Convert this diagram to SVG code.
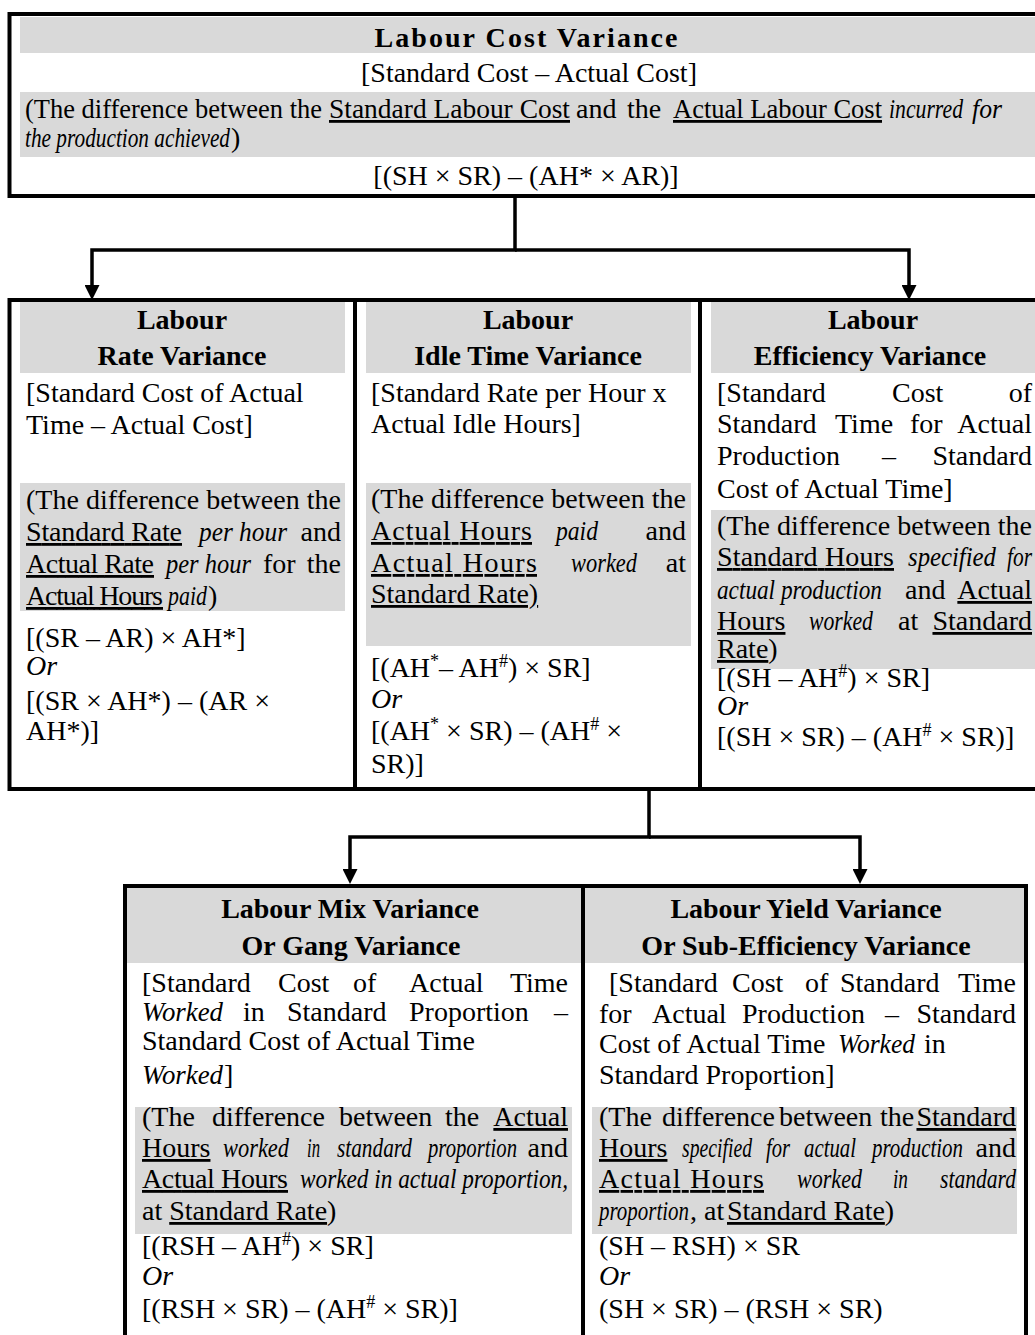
<svg xmlns="http://www.w3.org/2000/svg" width="1035" height="1335" viewBox="0 0 1035 1335">
<style>
.t{font-family:"Liberation Serif","Times New Roman",serif;font-size:28px;fill:#000}
.h{font-weight:bold;text-anchor:middle}
.i{font-style:italic}
.u{text-decoration:underline}
.m{text-anchor:middle}
.e{text-anchor:end}
.box{fill:#fff;stroke:#000;stroke-width:4}
.band{fill:#d9d9d9}
.conn{fill:none;stroke:#000;stroke-width:3.5}
.sup{font-size:18px}
</style>
<defs>
<marker id="arr" viewBox="0 0 15 15" refX="5" refY="7.5" markerWidth="15" markerHeight="15" markerUnits="userSpaceOnUse" orient="auto"><path d="M0,0 L15,7.5 L0,15 z" fill="#000"/></marker>
</defs>
<rect width="1035" height="1335" fill="#fff"/>

<g id="node-labour-cost">
<rect class="box" x="9.5" y="14" width="1040" height="182"/>
<rect class="band" x="20" y="17" width="1020" height="36"/>
<rect class="band" x="20" y="92" width="1020" height="65"/>
<text class="t h" x="526" y="47" font-size="31" textLength="303" lengthAdjust="spacing">Labour Cost Variance</text>
<text class="t m" x="529" y="82">[Standard Cost – Actual Cost]</text>
<text class="t" y="118"><tspan x="25" textLength="297" lengthAdjust="spacingAndGlyphs">(The difference between the</tspan><tspan class="u" x="329" textLength="241" lengthAdjust="spacingAndGlyphs">Standard Labour Cost</tspan><tspan x="576">and</tspan><tspan x="627">the</tspan><tspan class="u" x="673" textLength="209" lengthAdjust="spacingAndGlyphs">Actual Labour Cost</tspan><tspan class="i" x="889" textLength="74" lengthAdjust="spacingAndGlyphs">incurred</tspan><tspan class="i" x="972" textLength="30" lengthAdjust="spacingAndGlyphs">for</tspan></text>
<text class="t" y="147"><tspan class="i" x="25" textLength="205" lengthAdjust="spacingAndGlyphs">the production achieved</tspan><tspan x="231">)</tspan></text>
<text class="t m" x="526" y="185">[(SH × SR) – (AH* × AR)]</text>
</g>

<g id="node-rate">
<rect class="box" x="9.5" y="300" width="345.5" height="489"/>
<rect class="band" x="20" y="302" width="325" height="71"/>
<rect class="band" x="20" y="483" width="325" height="128"/>
<text class="t h" x="182" y="329">Labour</text>
<text class="t h" x="182" y="365">Rate Variance</text>
<text class="t" x="26" y="402">[Standard Cost of Actual</text>
<text class="t" x="26" y="434">Time – Actual Cost]</text>
<text class="t" x="26" y="509" textLength="315" lengthAdjust="spacing">(The difference between the</text>
<text class="t" y="541"><tspan class="u" x="26" textLength="156" lengthAdjust="spacing">Standard Rate</tspan><tspan class="i" x="199" textLength="88" lengthAdjust="spacingAndGlyphs">per hour</tspan><tspan class="e" x="341">and</tspan></text>
<text class="t" y="573"><tspan class="u" x="26" textLength="128" lengthAdjust="spacing">Actual Rate</tspan><tspan class="i" x="166" textLength="85" lengthAdjust="spacingAndGlyphs">per hour</tspan><tspan x="263">for</tspan><tspan class="e" x="341">the</tspan></text>
<text class="t" y="605"><tspan class="u" x="26" textLength="137" lengthAdjust="spacing">Actual Hours</tspan><tspan class="i" x="168" textLength="39" lengthAdjust="spacingAndGlyphs">paid</tspan><tspan x="208">)</tspan></text>
<text class="t" x="26" y="647">[(SR – AR) × AH*]</text>
<text class="t i" x="26" y="675">Or</text>
<text class="t" x="26" y="710">[(SR × AH*) – (AR ×</text>
<text class="t" x="26" y="740">AH*)]</text>
</g>

<g id="node-idle-time">
<rect class="box" x="355" y="300" width="345" height="489"/>
<rect class="band" x="366" y="302" width="325" height="71"/>
<rect class="band" x="366" y="483" width="325" height="163"/>
<text class="t h" x="528" y="329">Labour</text>
<text class="t h" x="528" y="365">Idle Time Variance</text>
<text class="t" x="371" y="402">[Standard Rate per Hour x</text>
<text class="t" x="371" y="433">Actual Idle Hours]</text>
<text class="t" x="371" y="508" textLength="315" lengthAdjust="spacing">(The difference between the</text>
<text class="t" y="540"><tspan class="u" x="371" textLength="161" lengthAdjust="spacing">Actual Hours</tspan><tspan class="i" x="556" textLength="42" lengthAdjust="spacingAndGlyphs">paid</tspan><tspan class="e" x="686">and</tspan></text>
<text class="t" y="572"><tspan class="u" x="371" textLength="166" lengthAdjust="spacing">Actual Hours</tspan><tspan class="i" x="571" textLength="66" lengthAdjust="spacingAndGlyphs">worked</tspan><tspan class="e" x="686">at</tspan></text>
<text class="t u" x="371" y="603">Standard Rate)</text>
<text class="t" x="371" y="677">[(AH<tspan class="sup" dy="-10">*</tspan><tspan dy="10">– AH</tspan><tspan class="sup" dy="-10">#</tspan><tspan dy="10">) × SR]</tspan></text>
<text class="t i" x="371" y="708">Or</text>
<text class="t" x="371" y="740">[(AH<tspan class="sup" dy="-10">*</tspan><tspan dy="10"> × SR) – (AH</tspan><tspan class="sup" dy="-10">#</tspan><tspan dy="10"> ×</tspan></text>
<text class="t" x="371" y="773">SR)]</text>
</g>

<g id="node-efficiency">
<rect class="box" x="700" y="300" width="345" height="489"/>
<rect class="band" x="711" y="302" width="330" height="71"/>
<rect class="band" x="711" y="510" width="330" height="159"/>
<text class="t h" x="873" y="329">Labour</text>
<text class="t h" x="870" y="365">Efficiency Variance</text>
<text class="t" y="402"><tspan x="717">[Standard</tspan><tspan x="892">Cost</tspan><tspan class="e" x="1032">of</tspan></text>
<text class="t" y="433"><tspan x="717">Standard</tspan><tspan x="835">Time</tspan><tspan x="910">for</tspan><tspan class="e" x="1032">Actual</tspan></text>
<text class="t" y="465"><tspan x="717">Production</tspan><tspan x="882">–</tspan><tspan class="e" x="1032">Standard</tspan></text>
<text class="t" x="717" y="498">Cost of Actual Time]</text>
<text class="t" x="717" y="535" textLength="315" lengthAdjust="spacing">(The difference between the</text>
<text class="t" y="566"><tspan class="u" x="717" textLength="177" lengthAdjust="spacing">Standard Hours</tspan><tspan class="i" x="908" textLength="88" lengthAdjust="spacingAndGlyphs">specified</tspan><tspan class="i e" x="1032" textLength="25" lengthAdjust="spacingAndGlyphs">for</tspan></text>
<text class="t" y="599"><tspan class="i" x="717" textLength="165" lengthAdjust="spacingAndGlyphs">actual production</tspan><tspan x="905">and</tspan><tspan class="u e" x="1032">Actual</tspan></text>
<text class="t" y="630"><tspan class="u" x="717">Hours</tspan><tspan class="i" x="809" textLength="64" lengthAdjust="spacingAndGlyphs">worked</tspan><tspan x="898">at</tspan><tspan class="u e" x="1032">Standard</tspan></text>
<text class="t" x="717" y="658"><tspan class="u">Rate</tspan>)</text>
<text class="t" x="717" y="687">[(SH – AH<tspan class="sup" dy="-10">#</tspan><tspan dy="10">) × SR]</tspan></text>
<text class="t i" x="717" y="715">Or</text>
<text class="t" x="717" y="746">[(SH × SR) – (AH<tspan class="sup" dy="-10">#</tspan><tspan dy="10"> × SR)]</tspan></text>
</g>

<g id="node-mix">
<rect class="box" x="125" y="886" width="458" height="470"/>
<rect class="band" x="127" y="888" width="454" height="75"/>
<rect class="band" x="135" y="1107" width="437" height="127"/>
<text class="t h" x="350" y="918">Labour Mix Variance</text>
<text class="t h" x="351" y="955">Or Gang Variance</text>
<text class="t" y="992"><tspan x="142">[Standard</tspan><tspan x="278">Cost</tspan><tspan x="353">of</tspan><tspan x="409">Actual</tspan><tspan class="e" x="568">Time</tspan></text>
<text class="t" y="1021"><tspan class="i" x="142" textLength="81" lengthAdjust="spacingAndGlyphs">Worked</tspan><tspan x="243">in</tspan><tspan x="287">Standard</tspan><tspan x="409">Proportion</tspan><tspan class="e" x="568">–</tspan></text>
<text class="t" x="142" y="1050">Standard Cost of Actual Time</text>
<text class="t" y="1084"><tspan class="i" x="142" textLength="81" lengthAdjust="spacingAndGlyphs">Worked</tspan><tspan x="224">]</tspan></text>
<text class="t" y="1126"><tspan x="142">(The</tspan><tspan x="212">difference</tspan><tspan x="339">between</tspan><tspan x="445">the</tspan><tspan class="u e" x="568">Actual</tspan></text>
<text class="t" y="1157"><tspan class="u" x="142">Hours</tspan><tspan class="i" x="223" textLength="66" lengthAdjust="spacingAndGlyphs">worked</tspan><tspan class="i" x="307" textLength="13" lengthAdjust="spacingAndGlyphs">in</tspan><tspan class="i" x="337" textLength="75" lengthAdjust="spacingAndGlyphs">standard</tspan><tspan class="i" x="428" textLength="89" lengthAdjust="spacingAndGlyphs">proportion</tspan><tspan class="e" x="568">and</tspan></text>
<text class="t" y="1188"><tspan class="u" x="142" textLength="146" lengthAdjust="spacing">Actual Hours</tspan><tspan class="i" x="300" textLength="268" lengthAdjust="spacingAndGlyphs">worked in actual proportion,</tspan></text>
<text class="t" x="142" y="1220">at <tspan class="u">Standard Rate</tspan>)</text>
<text class="t" x="142" y="1255">[(RSH – AH<tspan class="sup" dy="-10">#</tspan><tspan dy="10">) × SR]</tspan></text>
<text class="t i" x="142" y="1285">Or</text>
<text class="t" x="142" y="1318">[(RSH × SR) – (AH<tspan class="sup" dy="-10">#</tspan><tspan dy="10"> × SR)]</tspan></text>
</g>

<g id="node-yield">
<rect class="box" x="583" y="886" width="443" height="470"/>
<rect class="band" x="585" y="888" width="439" height="75"/>
<rect class="band" x="592" y="1107" width="425" height="127"/>
<text class="t h" x="806" y="918">Labour Yield Variance</text>
<text class="t h" x="806" y="955">Or Sub-Efficiency Variance</text>
<text class="t" y="992"><tspan x="609">[Standard</tspan><tspan x="732">Cost</tspan><tspan x="805">of</tspan><tspan x="840">Standard</tspan><tspan class="e" x="1016">Time</tspan></text>
<text class="t" y="1023"><tspan x="599">for</tspan><tspan x="652">Actual</tspan><tspan x="742">Production</tspan><tspan x="885">–</tspan><tspan class="e" x="1016">Standard</tspan></text>
<text class="t" y="1053"><tspan x="599">Cost of Actual Time</tspan><tspan class="i" x="838" textLength="77" lengthAdjust="spacingAndGlyphs">Worked</tspan><tspan x="924">in</tspan></text>
<text class="t" x="599" y="1084">Standard Proportion]</text>
<text class="t" y="1126"><tspan x="599">(The</tspan><tspan x="662">difference</tspan><tspan x="779">between</tspan><tspan x="880">the</tspan><tspan class="u e" x="1016">Standard</tspan></text>
<text class="t" y="1157"><tspan class="u" x="599">Hours</tspan><tspan class="i" x="682" textLength="70" lengthAdjust="spacingAndGlyphs">specified</tspan><tspan class="i" x="766" textLength="24" lengthAdjust="spacingAndGlyphs">for</tspan><tspan class="i" x="804" textLength="52" lengthAdjust="spacingAndGlyphs">actual</tspan><tspan class="i" x="872" textLength="91" lengthAdjust="spacingAndGlyphs">production</tspan><tspan class="e" x="1016">and</tspan></text>
<text class="t" y="1188"><tspan class="u" x="599" textLength="165" lengthAdjust="spacing">Actual Hours</tspan><tspan class="i" x="797" textLength="65" lengthAdjust="spacingAndGlyphs">worked</tspan><tspan class="i" x="893" textLength="15" lengthAdjust="spacingAndGlyphs">in</tspan><tspan class="i e" x="1016" textLength="76" lengthAdjust="spacingAndGlyphs">standard</tspan></text>
<text class="t" y="1220"><tspan class="i" x="599" textLength="90" lengthAdjust="spacingAndGlyphs">proportion</tspan><tspan x="690">, at</tspan><tspan class="u" x="727">Standard Rate</tspan><tspan>)</tspan></text>
<text class="t" x="599" y="1255">(SH – RSH) × SR</text>
<text class="t i" x="599" y="1285">Or</text>
<text class="t" x="599" y="1318">(SH × SR) – (RSH × SR)</text>
</g>

<g id="connectors">
<path class="conn" d="M515,198 V250 H92 V290" marker-end="url(#arr)"/>
<path class="conn" d="M515,250 H909 V290" marker-end="url(#arr)"/>
<path class="conn" d="M649,789 V837 H350 V874" marker-end="url(#arr)"/>
<path class="conn" d="M649,837 H860 V874" marker-end="url(#arr)"/>
</g>
</svg>
